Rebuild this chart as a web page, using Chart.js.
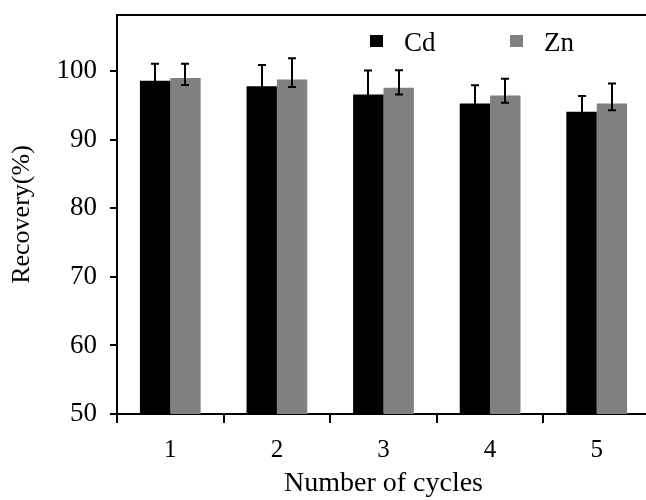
<!DOCTYPE html>
<html>
<head>
<meta charset="utf-8">
<script src="https://cdn.jsdelivr.net/npm/chart.js@4"></script>
<style>
  html, body { margin: 0; padding: 0; background: #fff; overflow: hidden; }
  #wrap { width: 660px; height: 500px; position: relative; }
</style>
</head>
<body>
<div id="wrap"><canvas id="c" width="660" height="500"></canvas></div>
<script>
const categories = ['1', '2', '3', '4', '5'];
const cdValues = [98.6, 97.8, 96.6, 95.3, 94.1];
const cdErrUp = [2.5, 3.1, 3.5, 2.65, 2.3];
const cdErrDown = [1.0, 1.1, 1.0, 1.0, 1.0];
const znValues = [99.0, 98.8, 97.6, 96.45, 95.3];
const znErrUp = [2.1, 3.1, 2.55, 2.45, 2.9];
const znErrDown = [1.0, 1.1, 1.0, 1.05, 1.0];
const yTicks = [50, 60, 70, 80, 90, 100];

const FONT = "'Liberation Serif', 'Times New Roman', serif";

const errorBarPlugin = {
  id: 'errorBars',
  afterDatasetsDraw(chart) {
    const ctx = chart.ctx;
    const yScale = chart.scales.y;
    ctx.save();
    ctx.strokeStyle = '#000';
    ctx.lineWidth = 2;
    chart.data.datasets.forEach((ds, i) => {
      const meta = chart.getDatasetMeta(i);
      meta.data.forEach((bar, j) => {
        const v = ds.data[j];
        const yt = yScale.getPixelForValue(v + ds.errUp[j]);
        const yb = yScale.getPixelForValue(v - ds.errDown[j]);
        const x = Math.round(bar.x);
        ctx.beginPath();
        ctx.moveTo(x, yt); ctx.lineTo(x, yb);
        ctx.moveTo(x - 4, yt); ctx.lineTo(x + 4, yt);
        ctx.moveTo(x - 4, yb); ctx.lineTo(x + 4, yb);
        ctx.stroke();
      });
    });
    ctx.restore();
  }
};

const frameLegendPlugin = {
  id: 'frameLegend',
  afterDraw(chart) {
    const ctx = chart.ctx;
    const a = chart.chartArea;
    ctx.save();
    ctx.strokeStyle = '#000';
    ctx.lineWidth = 2;
    ctx.beginPath();
    ctx.moveTo(a.left - 1, a.top);
    ctx.lineTo(chart.width, a.top);
    ctx.stroke();
    const offs = [253, 393];
    ctx.font = '27px ' + FONT;
    ctx.textBaseline = 'alphabetic';
    ctx.textAlign = 'left';
    chart.data.datasets.forEach((ds, i) => {
      const x = a.left + offs[i];
      ctx.fillStyle = ds.backgroundColor;
      ctx.fillRect(x, a.top + 20, 13, 12);
      ctx.fillStyle = '#000';
      ctx.fillText(ds.label, x + 34, a.top + 36);
    });
    ctx.restore();
  }
};

new Chart(document.getElementById('c'), {
  type: 'bar',
  data: {
    labels: categories,
    datasets: [
      { label: 'Cd', data: cdValues, errUp: cdErrUp, errDown: cdErrDown, backgroundColor: '#000000', borderWidth: 0 },
      { label: 'Zn', data: znValues, errUp: znErrUp, errDown: znErrDown, backgroundColor: '#808080', borderWidth: 0 }
    ]
  },
  options: {
    responsive: false,
    animation: false,
    events: [],
    layout: { padding: { left: 0, right: 10, top: 15, bottom: 0 } },
    datasets: { bar: { categoryPercentage: 0.57, barPercentage: 1.0 } },
    plugins: { legend: { display: false }, tooltip: { enabled: false }, title: { display: false } },
    scales: {
      x: {
        afterFit(scale) { scale.height = 86; scale.paddingLeft = 0; scale.paddingRight = 0; },
        grid: { display: true, drawOnChartArea: false, drawTicks: true, tickLength: 9, color: '#000', lineWidth: 2, offset: true },
        border: { display: true, color: '#000', width: 2 },
        ticks: { color: '#000', font: { family: FONT, size: 25 }, padding: 12, maxRotation: 0 },
        title: { display: true, text: 'Number of cycles', color: '#000', font: { family: FONT, size: 28 }, padding: { top: 0, bottom: 0 } }
      },
      y: {
        min: 50,
        max: 108.2,
        afterFit(scale) { scale.width = 117; scale.paddingTop = 0; scale.paddingBottom = 0; },
        afterBuildTicks(scale) { scale.ticks = yTicks.map(v => ({ value: v })); },
        grid: { display: true, drawOnChartArea: false, drawTicks: true, tickLength: 7, color: '#000', lineWidth: 2 },
        border: { display: true, color: '#000', width: 2 },
        ticks: { color: '#000', font: { family: FONT, size: 27 }, padding: 13 },
        title: { display: true, text: 'Recovery(%)', color: '#000', font: { family: FONT, size: 26 }, padding: { top: 7, bottom: 0 } }
      }
    }
  },
  plugins: [errorBarPlugin, frameLegendPlugin]
});
</script>
</body>
</html>
